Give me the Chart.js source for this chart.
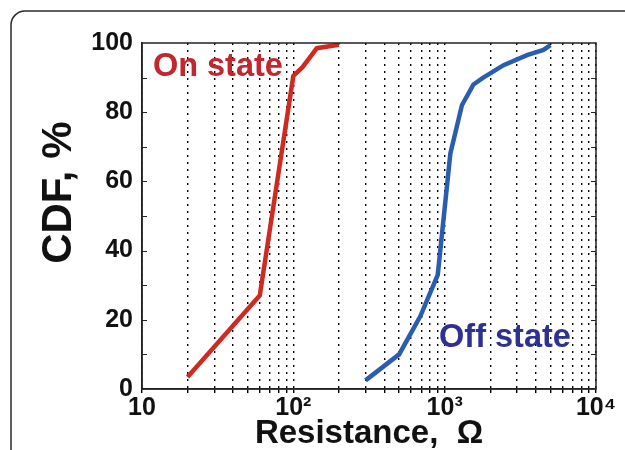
<!DOCTYPE html>
<html>
<head>
<meta charset="utf-8">
<script src="https://cdn.jsdelivr.net/npm/chart.js@4/dist/chart.umd.min.js"></script>
<style>
  html, body { margin: 0; padding: 0; background: #fff; }
  #wrap { width: 625px; height: 450px; position: relative; }
</style>
</head>
<body>
<div id="wrap"><canvas id="c" width="625" height="450"></canvas></div>
<script>
// ---- data ----
const onStateR   = [20, 60, 100, 115, 143, 200];
const onStateCDF = [3.5, 27, 90.5, 93, 98.5, 99.5];
const offStateR   = [300, 500, 690, 900, 1090, 1300, 1550, 1800, 2450, 3500, 4500, 5000];
const offStateCDF = [2.5, 10, 21, 33, 68, 82, 88, 90, 93.6, 96.5, 98, 99.4];
const xTickValues = [10,20,30,40,50,60,70,80,90,100,200,300,400,500,600,700,800,900,1000,2000,3000,4000,5000,6000,7000,8000,9000,10000];
const xTickLabels = {10: '10', 100: '10\u00b2', 1000: '10\u00b3', 10000: '10\u2074'};
const yLabelValues = [0, 20, 40, 60, 80, 100];
const seriesNames = ['On state', 'Off state'];
const xTitle = 'Resistance,  \u03a9';
const yTitle = 'CDF, %';

const FONT = '"Liberation Sans", Arial, Helvetica, sans-serif';

const decor = {
  id: 'decor',
  beforeDraw(chart) {
    const ctx = chart.ctx;
    ctx.save();
    ctx.strokeStyle = '#2b2b2b';
    ctx.lineWidth = 1.5;
    const x = 11, y = 11, w = 800, h = 700, r = 14;
    ctx.beginPath();
    ctx.moveTo(x + r, y);
    ctx.lineTo(x + w, y);
    ctx.moveTo(x + r, y);
    ctx.arcTo(x, y, x, y + r, r);
    ctx.lineTo(x, y + h);
    ctx.stroke();
    ctx.restore();
  },
  afterDatasetsDraw(chart) {
    const ctx = chart.ctx;
    const a = chart.chartArea;
    const xs = chart.scales.x, ys = chart.scales.y;
    ctx.save();
    // plot box
    ctx.strokeStyle = '#222';
    ctx.lineWidth = 1.5;
    ctx.strokeRect(a.left, a.top, a.right - a.left, a.bottom - a.top);
    // inward y ticks on left and right
    ctx.lineWidth = 1;
    ys.ticks.forEach(t => {
      if (t.value <= 0 || t.value >= 100) return;
      const py = Math.round(ys.getPixelForValue(t.value)) + 0.5;
      ctx.beginPath();
      ctx.moveTo(a.left, py); ctx.lineTo(a.left + 5, py);
      ctx.moveTo(a.right, py); ctx.lineTo(a.right - 5, py);
      ctx.stroke();
    });
    // series labels
    ctx.font = 'bold 32.5px ' + FONT;
    ctx.textAlign = 'left';
    ctx.textBaseline = 'alphabetic';
    ctx.fillStyle = '#c1272d';
    ctx.fillText(seriesNames[0], xs.getPixelForValue(11.8), ys.getPixelForValue(90.5));
    ctx.fillStyle = '#2e3192';
    ctx.fillText(seriesNames[1], xs.getPixelForValue(918), ys.getPixelForValue(12.2));
    ctx.restore();
  }
};

new Chart(document.getElementById('c'), {
  type: 'line',
  data: {
    datasets: [
      {
        label: seriesNames[0],
        data: onStateR.map((r, i) => ({x: r, y: onStateCDF[i]})),
        borderColor: '#d0291f',
        borderWidth: 4.5,
        pointRadius: 0,
        tension: 0,
        fill: false
      },
      {
        label: seriesNames[1],
        data: offStateR.map((r, i) => ({x: r, y: offStateCDF[i]})),
        borderColor: '#2a5db0',
        borderWidth: 4.5,
        pointRadius: 0,
        tension: 0,
        fill: false
      }
    ]
  },
  options: {
    responsive: false,
    animation: false,
    devicePixelRatio: 1,
    layout: { padding: { top: 43, right: 29, left: 0, bottom: 0 } },
    plugins: { legend: { display: false }, tooltip: { enabled: false } },
    scales: {
      x: {
        type: 'logarithmic',
        min: 10, max: 10000,
        afterBuildTicks: (s) => { s.ticks = xTickValues.map(v => ({value: v})); },
        afterFit: (s) => { s.height = 61; },
        grid: { display: true, drawOnChartArea: true, drawTicks: true, tickLength: 4, color: '#000', lineWidth: 1.4 },
        border: { display: true, color: '#222', width: 1.5, dash: [2, 5] },
        ticks: {
          autoSkip: false, maxRotation: 0, padding: 0, color: '#111',
          font: { family: FONT, size: 25, weight: 'bold' },
          callback: (v) => xTickLabels[v] || ''
        },
        title: {
          display: true, text: xTitle, color: '#111',
          font: { family: FONT, size: 33, weight: 'bold', lineHeight: 1 },
          padding: { top: 0, bottom: 0 }
        }
      },
      y: {
        min: 0, max: 100,
        afterFit: (s) => { s.width = 142; },
        grid: { display: false, drawTicks: false },
        border: { display: true, color: '#222', width: 1.5 },
        ticks: {
          stepSize: 10, padding: 9, color: '#111',
          font: { family: FONT, size: 25, weight: 'bold' },
          callback: (v) => yLabelValues.includes(v) ? String(v) : ''
        },
        title: {
          display: true, text: '\u00a0\u00a0\u00a0\u00a0' + yTitle, color: '#111',
          font: { family: FONT, size: 42, weight: 'bold' },
          padding: { top: 34, bottom: 0 }
        }
      }
    }
  },
  plugins: [decor]
});
</script>
</body>
</html>
